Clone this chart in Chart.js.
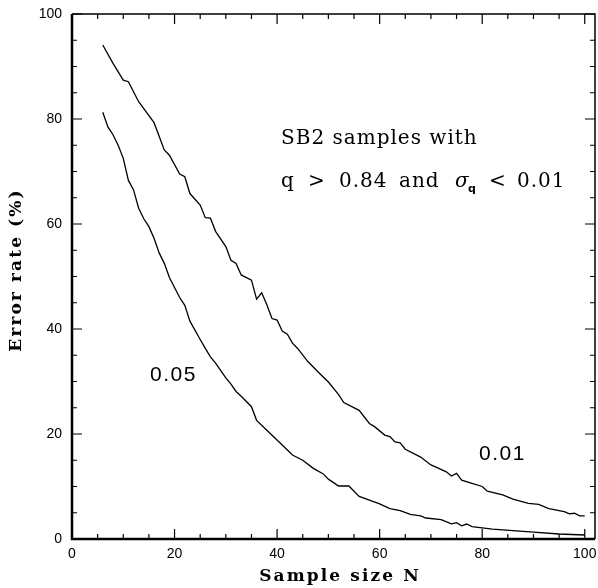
<!DOCTYPE html>
<html>
<head>
<meta charset="utf-8">
<script src="https://cdn.jsdelivr.net/npm/chart.js@4/dist/chart.umd.min.js"></script>
<style>
  html, body { margin: 0; padding: 0; background: #fff; }
  #wrap { width: 598px; height: 588px; }
</style>
</head>
<body>
<div id="wrap"><canvas id="myChart" width="598" height="588"></canvas></div>
<script>
// Error rate curves (sample size N, error rate %)
const upperN = [6, 8, 10, 11, 13, 16, 18, 19, 21, 22, 23, 25, 26, 27, 28, 30, 31, 32, 33, 35, 36, 37, 38, 39, 40, 41, 42, 43, 44, 46, 48, 50, 52, 53, 56, 58, 59, 61, 62, 63, 64, 65, 68, 70, 71, 73, 74, 75, 76, 78, 80, 81, 84, 86, 89, 91, 93, 96, 97, 98, 99, 100];
const upperErr = [94.1, 90.6, 87.4, 87.1, 83.3, 79.3, 74.1, 73.1, 69.5, 69.0, 65.8, 63.6, 61.2, 61.1, 58.6, 55.7, 53.1, 52.5, 50.3, 49.3, 45.7, 46.9, 44.6, 42.0, 41.7, 39.6, 39.0, 37.3, 36.3, 33.8, 31.8, 29.9, 27.5, 26.0, 24.5, 22.0, 21.4, 19.8, 19.5, 18.5, 18.3, 17.1, 15.6, 14.1, 13.7, 12.8, 12.0, 12.5, 11.2, 10.6, 10.0, 9.1, 8.4, 7.6, 6.8, 6.6, 5.8, 5.2, 4.8, 4.9, 4.4, 4.4];

const lowerN = [6, 7, 8, 9, 10, 11, 12, 13, 14, 15, 16, 17, 18, 19, 21, 22, 23, 25, 26, 27, 28, 30, 31, 32, 33, 35, 36, 38, 41, 43, 45, 47, 49, 50, 52, 54, 56, 58, 60, 62, 64, 66, 68, 69, 72, 74, 75, 76, 77, 78, 82, 86, 90, 95, 100];
const lowerErr = [81.3, 78.5, 77.0, 75.0, 72.5, 68.3, 66.5, 63.0, 61.0, 59.5, 57.3, 54.5, 52.5, 49.8, 46.0, 44.5, 41.5, 38.0, 36.3, 34.7, 33.5, 30.7, 29.5, 28.1, 27.2, 25.2, 22.6, 20.7, 17.9, 16.0, 15.0, 13.5, 12.4, 11.4, 10.1, 10.1, 8.1, 7.4, 6.7, 5.8, 5.4, 4.7, 4.4, 4.0, 3.7, 2.9, 3.1, 2.5, 2.85, 2.35, 1.9, 1.6, 1.3, 0.95, 0.76];

const xTickLabels = [0, 20, 40, 60, 80, 100];
const yTickLabels = [0, 20, 40, 60, 80, 100];
const minorTicks = [0, 5, 10, 15, 20, 25, 30, 35, 40, 45, 50, 55, 60, 65, 70, 75, 80, 85, 90, 95, 100];

function toPoints(xs, ys) {
    return xs.map((x, i) => ({ x: x, y: ys[i] }));
}

// Frame, inward ticks, axis titles and annotations
const framePlugin = {
    id: 'frame',
    afterDraw(chart) {
        const ctx = chart.ctx;
        const a = chart.chartArea;
        const xs = chart.scales.x, ys = chart.scales.y;
        ctx.save();
        ctx.strokeStyle = '#000';

        // ticks on all four sides
        ctx.lineWidth = 1.2;
        minorTicks.forEach(v => {
            const len = (v % 20 === 0) ? 10 : 5;
            const px = xs.getPixelForValue(v);
            ctx.beginPath();
            ctx.moveTo(px, a.bottom); ctx.lineTo(px, a.bottom - len);
            ctx.moveTo(px, a.top); ctx.lineTo(px, a.top + len);
            ctx.stroke();
            const py = ys.getPixelForValue(v);
            ctx.beginPath();
            ctx.moveTo(a.left, py); ctx.lineTo(a.left + len, py);
            ctx.moveTo(a.right, py); ctx.lineTo(a.right - len, py);
            ctx.stroke();
        });

        // box
        ctx.lineWidth = 1.5;
        ctx.beginPath();
        ctx.moveTo(a.left, a.top); ctx.lineTo(a.right, a.top); ctx.lineTo(a.right, a.bottom);
        ctx.stroke();
        ctx.lineWidth = 2.5;
        ctx.beginPath();
        ctx.moveTo(a.left, a.top); ctx.lineTo(a.left, a.bottom); ctx.lineTo(a.right, a.bottom);
        ctx.stroke();

        ctx.fillStyle = '#000';
        ctx.textBaseline = 'middle';

        // axis titles
        ctx.font = 'bold 17px "DejaVu Serif"';
        ctx.letterSpacing = '2.1px';
        ctx.textAlign = 'center';
        ctx.fillText('Sample size N', 340, 577);
        ctx.save();
        ctx.translate(17, 270);
        ctx.rotate(-Math.PI / 2);
        ctx.fillText('Error rate (%)', 0, 0);
        ctx.restore();

        // annotations
        ctx.textAlign = 'left';
        ctx.font = '20px "DejaVu Serif"';
        ctx.letterSpacing = '1px';
        ctx.fillText('SB2 samples with', 281, 139);
        const y2 = 182;
        ctx.fillText('q', 281, y2);
        ctx.fillText('>', 308, y2);
        ctx.fillText('0.84', 339, y2);
        ctx.fillText('and', 399, y2);
        ctx.font = 'italic 20px "DejaVu Serif"';
        ctx.fillText('\u03c3', 455, y2);
        ctx.font = 'bold 11px "DejaVu Sans"';
        ctx.fillText('q', 468, y2 + 7);
        ctx.font = '20px "DejaVu Serif"';
        ctx.fillText('<', 489, y2);
        ctx.fillText('0.01', 517, y2);

        ctx.font = '21px "Liberation Sans"';
        ctx.letterSpacing = '1.5px';
        ctx.fillText('0.05', 150, 375);
        ctx.fillText('0.01', 479, 454);
        ctx.restore();
    }
};

const ctx = document.getElementById('myChart').getContext('2d');
new Chart(ctx, {
    type: 'line',
    data: {
        datasets: [{
            label: '0.01',
            data: toPoints(upperN, upperErr),
            borderColor: '#000',
            borderWidth: 1.3,
            pointRadius: 0,
            tension: 0
        }, {
            label: '0.05',
            data: toPoints(lowerN, lowerErr),
            borderColor: '#000',
            borderWidth: 1.3,
            pointRadius: 0,
            tension: 0
        }]
    },
    options: {
        responsive: false,
        animation: false,
        layout: { padding: { top: 14, right: 3, left: 0, bottom: 0 } },
        plugins: { legend: { display: false }, tooltip: { enabled: false } },
        scales: {
            x: {
                type: 'linear',
                min: 0,
                max: 102,
                grid: { display: false, drawTicks: false },
                border: { display: false },
                afterBuildTicks: s => { s.ticks = xTickLabels.map(v => ({ value: v })); },
                afterFit: s => { s.height = 49; s.paddingLeft = 0; s.paddingRight = 0; },
                ticks: { color: '#000', padding: 7, maxRotation: 0, font: { family: 'Liberation Sans', size: 14 } }
            },
            y: {
                type: 'linear',
                min: 0,
                max: 100,
                grid: { display: false, drawTicks: false },
                border: { display: false },
                afterBuildTicks: s => { s.ticks = yTickLabels.map(v => ({ value: v })); },
                afterFit: s => { s.width = 72; s.paddingTop = 0; s.paddingBottom = 0; },
                ticks: { color: '#000', padding: 10, font: { family: 'Liberation Sans', size: 14 } }
            }
        }
    },
    plugins: [framePlugin]
});
</script>
</body>
</html>
